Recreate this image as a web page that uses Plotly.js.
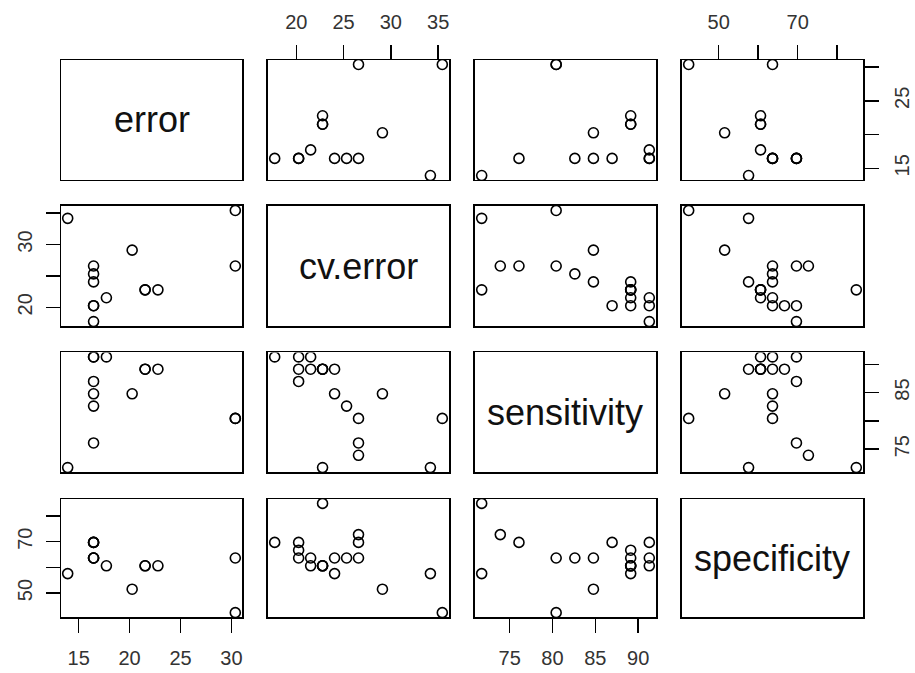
<!DOCTYPE html>
<html>
<head>
<meta charset="utf-8">
<script src="https://cdn.plot.ly/plotly-3.0.1.min.js"></script>
<style>body{margin:0;background:#fff}</style>
</head>
<body>
<div id="chart" style="width:915px;height:673px"></div>
<script>
var names = ['error', 'cv.error', 'sensitivity', 'specificity'];

// one entry per row of the data frame, null = missing error
var error       = [null, 30.38, null, 20.25, 13.92, null, null, 16.46, 16.46, 16.46, 21.52, 21.52, 22.78, 17.72, 30.38, 16.46, 16.46, 16.46, null];
var cvError     = [22.78, 35.44, 26.58, 29.11, 34.18, 24.05, 20.25, 26.58, 20.25, 17.72, 22.78, 22.78, 22.78, 21.52, 26.58, 25.32, 24.05, 20.25, 21.52];
var sensitivity = [71.74, 80.43, 73.91, 84.78, 71.74, 89.13, 89.13, 76.09, 86.96, 91.30, 89.13, 89.13, 89.13, 91.30, 80.43, 82.61, 84.78, 91.30, 89.13];
var specificity = [84.85, 42.42, 72.73, 51.52, 57.58, 57.58, 66.67, 69.70, 69.70, 69.70, 60.61, 60.61, 60.61, 60.61, 63.64, 63.64, 63.64, 63.64, 63.64];

var errTicks  = [15, 20, 25, 30];
var cvTicks   = [20, 25, 30, 35];
var sensTicks = [75, 80, 85, 90];
var specTicks = [50, 60, 70, 80];
// labels R kept on the horizontal and the vertical axes
var errLabX  = ['15', '20', '25', '30'], errLabY  = ['15', '', '25', ''];
var cvLabX   = ['20', '25', '30', '35'], cvLabY   = ['20', '', '30', ''];
var sensLabX = ['75', '80', '85', '90'], sensLabY = ['75', '', '85', ''];
var specLabX = ['50', '', '70', ''],     specLabY = ['50', '', '70', ''];

var vars = [error, cvError, sensitivity, specificity];
var ticks = [errTicks, cvTicks, sensTicks, specTicks];
var labX = [errLabX, cvLabX, sensLabX, specLabX];
var labY = [errLabY, cvLabY, sensLabY, specLabY];

var colDom = [[0, 0.2257], [0.2581, 0.4838], [0.5162, 0.7419], [0.7743, 1]];
var rowDom = [[0.7846, 1], [0.5224, 0.7379], [0.2603, 0.4749], [0, 0.2118]];

function padRange(a) {
    var v = a.filter(function(d) { return d !== null; });
    var lo = Math.min.apply(null, v), hi = Math.max.apply(null, v);
    var p = (hi - lo) * 0.04;
    return [lo - p, hi + p];
}

var font = 'Liberation Sans, Arial, sans-serif';
var data = [];
var layout = {
    width: 915, height: 673,
    margin: {l: 61, r: 52, t: 60, b: 56},
    paper_bgcolor: '#fff', plot_bgcolor: '#fff',
    showlegend: false,
    hovermode: false,
    font: {family: font, color: '#333', size: 20},
    annotations: []
};

for (var r = 0; r < 4; r++) {
    for (var c = 0; c < 4; c++) {
        var i = r * 4 + c + 1;
        var sfx = i == 1 ? '' : String(i);
        var xa = {
            domain: colDom[c], anchor: 'y' + sfx, range: padRange(vars[c]),
            showgrid: false, zeroline: false, showline: true, mirror: true,
            linecolor: '#000', linewidth: 1.5, ticks: '', showticklabels: false
        };
        var ya = {
            domain: rowDom[r], anchor: 'x' + sfx, range: padRange(vars[r]),
            showgrid: false, zeroline: false, showline: true, mirror: true,
            linecolor: '#000', linewidth: 1.5, ticks: '', showticklabels: false
        };
        var xOut = (r == 3 && c % 2 == 0) || (r == 0 && c % 2 == 1);
        if (xOut) {
            xa.side = r == 0 ? 'top' : 'bottom';
            xa.ticks = 'outside'; xa.ticklen = 14; xa.tickwidth = 1.5; xa.tickcolor = '#000';
            xa.tickmode = 'array'; xa.tickvals = ticks[c]; xa.ticktext = labX[c];
            xa.showticklabels = true; xa.ticklabelstandoff = 8;
        }
        var yOut = (c == 0 && r % 2 == 1) || (c == 3 && r % 2 == 0);
        if (yOut) {
            ya.side = c == 0 ? 'left' : 'right';
            ya.ticks = 'outside'; ya.ticklen = 14; ya.tickwidth = 1.5; ya.tickcolor = '#000';
            ya.tickmode = 'array'; ya.tickvals = ticks[r]; ya.ticktext = labY[r];
            ya.showticklabels = true; ya.tickangle = -90; ya.ticklabelstandoff = 6;
        }
        layout['xaxis' + sfx] = xa;
        layout['yaxis' + sfx] = ya;

        if (r == c) {
            data.push({x: [], y: [], xaxis: 'x' + sfx, yaxis: 'y' + sfx, type: 'scatter'});
            layout.annotations.push({
                xref: 'x' + sfx + ' domain', yref: 'y' + sfx + ' domain', x: 0.5, y: 0.5,
                text: names[r], showarrow: false, font: {size: 36, color: '#111', family: font}
            });
        } else {
            data.push({
                x: vars[c], y: vars[r], xaxis: 'x' + sfx, yaxis: 'y' + sfx,
                type: 'scatter', mode: 'markers',
                marker: {symbol: 'circle-open', size: 10, color: '#000', line: {width: 1.6, color: '#000'}}
            });
        }
    }
}

Plotly.newPlot('chart', data, layout, {staticPlot: true});
</script>
</body>
</html>
